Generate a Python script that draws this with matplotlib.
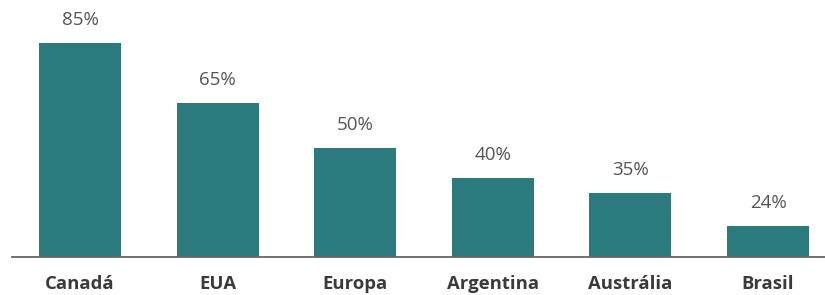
import matplotlib.pyplot as plt

# data
paises = ["Canadá", "EUA", "Europa", "Argentina", "Austrália", "Brasil"]
valores = [85, 65, 50, 40, 35, 24]
rotulos = ["85%", "65%", "50%", "40%", "35%", "24%"]

plt.rcParams['font.family'] = ['Open Sans', 'DejaVu Sans']

fig = plt.figure(figsize=(8.25, 2.95), dpi=100)
ax = fig.add_axes([12/825, 1 - 257/295, 813/825, 257/295])

x = range(len(paises))
ax.bar(x, valores, width=0.596, color="#2b7b7e", zorder=2)

for xi, v, r in zip(x, valores, rotulos):
    ax.annotate(r, (xi, v), xytext=(0, 10), textcoords="offset points",
                ha="center", va="bottom", fontsize=13.5, color="#555555")

ax.set_xlim(-0.494, 5.414)
ax.set_ylim(13.7, 99.3)

for s in ["top", "right", "left"]:
    ax.spines[s].set_visible(False)
ax.spines["bottom"].set_color("#666666")
ax.spines["bottom"].set_linewidth(1.3)

ax.set_yticks([])
ax.set_xticks(list(x))
ax.set_xticklabels(paises, fontsize=13.3, fontweight="bold", color="#3a3a3a")
ax.tick_params(axis="x", length=0, pad=13)

fig.savefig("out.png", dpi=100)
